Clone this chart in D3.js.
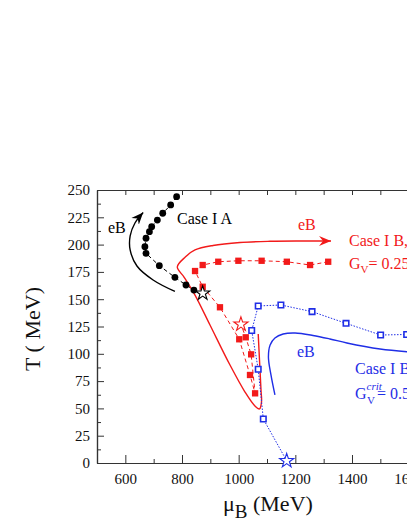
<!DOCTYPE html>
<html>
<head>
<meta charset="utf-8">
<script src="https://cdn.jsdelivr.net/npm/d3@7"></script>
<style>
  body { margin: 0; background: #fff; }
  svg { display: block; }
  text { font-family: "Liberation Serif", "Times New Roman", serif; }
</style>
</head>
<body>
<script>
// Case I A (black dots), mu_B vs T
var caseA_mu = [781, 760, 732, 713, 693, 685, 673, 669, 673, 720, 775, 814, 842];
var caseA_T = [243.9, 236.3, 228.7, 222.5, 216.4, 211.8, 205.8, 198.1, 192, 180.7, 170, 163, 158.4];
var caseA_cep = [873, 155.4];

// Case I B, G_V = 0.25 (red filled squares)
var caseB_mu = [1316, 1252, 1170, 1081, 999, 928, 873, 846, 873, 934, 1002, 1040, 1058, 1044, 1025];
var caseB_T = [184.3, 181.3, 184.3, 185.2, 185.2, 184.3, 181.3, 175.8, 161.4, 142.6, 113.3, 80.6, 63.8, 99.5, 115.1];
var caseB_cep = [1008, 127];

// Case I B, G_V crit (blue open squares)
var caseC_mu = [1087, 1069, 1046, 1069, 1149, 1259, 1379, 1501, 1593];
var caseC_T = [40.3, 85.8, 121.3, 143.8, 144.7, 138.6, 127.9, 117.2, 117.7];
var caseC_cep = [1169.5, 2];

// eB arrows
var arrowA_mu = [775, 698, 641, 617, 617, 634, 663];
var arrowA_T = [157.1, 167.6, 180.4, 195.1, 207.9, 219.8, 229.4];
var arrowB_mu = [1069, 1073.5, 1078.8, 1080.6, 1073.5, 1057.6, 1022.4, 969.4, 898.8, 845.9, 807.1, 783.4, 811.6, 845.9, 909.4, 1004.7, 1110.6, 1216.5, 1326];
var arrowB_T = [118.1, 94.3, 66.8, 55.9, 49.5, 52.2, 65, 89.7, 126.4, 153.8, 170.3, 179.5, 188.6, 195.1, 199.2, 201.9, 203, 203.3, 203.3];
var curveC_mu = [1128, 1114, 1105, 1111, 1128, 1157, 1199, 1262, 1322, 1382, 1499, 1594, 1675];
var curveC_T = [62.3, 80.6, 97.1, 108.1, 114.5, 118.1, 119, 116.8, 113.6, 109.9, 104.4, 101.9, 100.7];

var xTicks = [600, 800, 1000, 1200, 1400, 1600];
var yTicks = [0, 25, 50, 75, 100, 125, 150, 175, 200, 225, 250];

var W = 407, H = 527;
var margin = {top: 190, left: 97};
var plotH = 273;
var red = '#f21a1a', blue = '#1f2ee6';

var svg = d3.select('body').append('svg')
    .attr('width', W)
    .attr('height', H);

var xScale = d3.scaleLinear().domain([500, 1700]).range([margin.left, margin.left + 340]);
var yScale = d3.scaleLinear().domain([0, 250]).range([margin.top + plotH, margin.top]);

function pairs(a, b) { return a.map((v, i) => [v, b[i]]); }

var defs = svg.append('defs');
function marker(id, col) {
    defs.append('marker')
        .attr('id', id)
        .attr('viewBox', '-12 -6 14 12')
        .attr('refX', 0).attr('refY', 0)
        .attr('markerWidth', 14).attr('markerHeight', 12)
        .attr('markerUnits', 'userSpaceOnUse')
        .attr('orient', 'auto')
        .append('path')
        .attr('d', 'M0,0 L-12,-5 L-8,0 L-12,5 Z')
        .attr('fill', col);
}
marker('arrK', '#000');
marker('arrR', red);

// axes
var axisCol = '#333';
function styleAxis(g) {
    g.selectAll('path').attr('stroke', axisCol).attr('stroke-width', 1.2);
    g.selectAll('line').attr('stroke', axisCol).attr('stroke-width', 1);
    g.selectAll('text').attr('fill', '#111').style('font-size', '15px')
        .style('font-family', '"Liberation Serif", "Times New Roman", serif');
}
var bottom = margin.top + plotH;
svg.append('g').attr('transform', 'translate(0,' + bottom + ')')
    .call(d3.axisBottom(xScale).tickValues(xTicks).tickSize(-8).tickSizeOuter(0).tickPadding(10).tickFormat(d3.format('d')))
    .call(styleAxis);
svg.append('g').attr('transform', 'translate(0,' + bottom + ')')
    .call(d3.axisBottom(xScale).tickValues([700, 900, 1100, 1300, 1500, 1700]).tickSize(-4).tickSizeOuter(0).tickFormat(''))
    .call(styleAxis);
svg.append('g').attr('transform', 'translate(0,' + margin.top + ')')
    .call(d3.axisTop(xScale).tickValues(d3.range(600, 1701, 100)).tickSize(-5).tickSizeOuter(0).tickFormat(''))
    .call(styleAxis);
svg.append('g').attr('transform', 'translate(' + margin.left + ',0)')
    .call(d3.axisLeft(yScale).tickValues(yTicks).tickSize(-7).tickSizeOuter(0).tickPadding(7))
    .call(styleAxis);
svg.append('g').attr('transform', 'translate(' + margin.left + ',0)')
    .call(d3.axisLeft(yScale).tickValues(d3.range(12.5, 250, 25)).tickSize(-4).tickSizeOuter(0).tickFormat(''))
    .call(styleAxis);

var line = d3.line().x(d => xScale(d[0])).y(d => yScale(d[1]));
var smooth = d3.line().x(d => xScale(d[0])).y(d => yScale(d[1])).curve(d3.curveCatmullRom.alpha(0.5));

// eB curves
svg.append('path').attr('d', smooth(pairs(arrowA_mu, arrowA_T)))
    .attr('fill', 'none').attr('stroke', '#000').attr('stroke-width', 1.4)
    .attr('marker-end', 'url(#arrK)');
svg.append('path').attr('d', smooth(pairs(arrowB_mu, arrowB_T)))
    .attr('fill', 'none').attr('stroke', red).attr('stroke-width', 1.4)
    .attr('marker-end', 'url(#arrR)');
svg.append('path').attr('d', smooth(pairs(curveC_mu, curveC_T)))
    .attr('fill', 'none').attr('stroke', blue).attr('stroke-width', 1.4);

// connecting lines
svg.append('path').attr('d', line(pairs(caseA_mu, caseA_T).concat([caseA_cep])))
    .attr('fill', 'none').attr('stroke', '#000').attr('stroke-width', 1).attr('stroke-dasharray', '4,3');
svg.append('path').attr('d', line(pairs(caseB_mu, caseB_T).concat([caseB_cep])))
    .attr('fill', 'none').attr('stroke', red).attr('stroke-width', 1).attr('stroke-dasharray', '4,3');
svg.append('path').attr('d', line([caseC_cep].concat(pairs(caseC_mu, caseC_T))))
    .attr('fill', 'none').attr('stroke', blue).attr('stroke-width', 1).attr('stroke-dasharray', '1.5,1.5');

// markers
svg.selectAll('.dotA').data(pairs(caseA_mu, caseA_T)).enter().append('circle')
    .attr('class', 'dotA')
    .attr('cx', d => xScale(d[0])).attr('cy', d => yScale(d[1]))
    .attr('r', 3.4).attr('fill', '#000');
var sq = d3.symbol().type(d3.symbolSquare);
svg.selectAll('.sqB').data(pairs(caseB_mu, caseB_T)).enter().append('path')
    .attr('class', 'sqB')
    .attr('transform', d => 'translate(' + xScale(d[0]) + ',' + yScale(d[1]) + ')')
    .attr('d', sq.size(40)()).attr('fill', red);
svg.selectAll('.sqC').data(pairs(caseC_mu, caseC_T)).enter().append('path')
    .attr('class', 'sqC')
    .attr('transform', d => 'translate(' + xScale(d[0]) + ',' + yScale(d[1]) + ')')
    .attr('d', d3.symbol().type(d3.symbolSquare).size(30)()).attr('fill', '#fff')
    .attr('stroke', blue).attr('stroke-width', 1.6);

var star = d3.symbol().type(d3.symbolStar).size(62);
[[caseA_cep, '#000'], [caseB_cep, red], [caseC_cep, blue]].forEach(s => {
    svg.append('path')
        .attr('transform', 'translate(' + xScale(s[0][0]) + ',' + yScale(s[0][1]) + ')')
        .attr('d', star()).attr('fill', '#fff').attr('stroke', s[1]).attr('stroke-width', 1.1);
});

// labels
function label(x, y, txt, col) {
    return svg.append('text').attr('x', x).attr('y', y).attr('fill', col)
        .style('font-size', '16px').text(txt);
}
label(108, 233, 'eB', '#000');
label(177, 224, 'Case I A', '#000');
label(298, 230, 'eB', red);
label(349, 246, 'Case I B, ', red);
var gv = svg.append('text').attr('x', 349).attr('y', 269).attr('fill', red).style('font-size', '16px');
gv.append('tspan').text('G');
gv.append('tspan').attr('dy', 4).style('font-size', '11px').text('V');
gv.append('tspan').attr('dy', -4).text('= 0.25');
label(297, 357, 'eB', blue);
label(355, 374, 'Case I B, ', blue);
var gc = svg.append('text').attr('x', 355).attr('y', 399).attr('fill', blue).style('font-size', '16px');
gc.append('tspan').text('G');
gc.append('tspan').attr('dy', -9).style('font-size', '11px').style('font-style', 'italic').text('crit');
gc.append('tspan').attr('x', 367).attr('dy', 14).style('font-size', '11px').text('V');
gc.append('tspan').attr('x', 377).attr('dy', -5).text('= 0.5');

// axis titles
var xt = svg.append('text').attr('x', 223).attr('y', 511).attr('fill', '#111').style('font-size', '22px');
xt.append('tspan').text('μ');
xt.append('tspan').attr('dy', 7).style('font-size', '19px').text('B');
xt.append('tspan').attr('dy', -7).text(' (MeV)');
svg.append('text')
    .attr('transform', 'translate(40,329) rotate(-90)')
    .attr('text-anchor', 'middle').attr('fill', '#111').style('font-size', '22px')
    .text('T ( MeV)');
</script>
</body>
</html>
